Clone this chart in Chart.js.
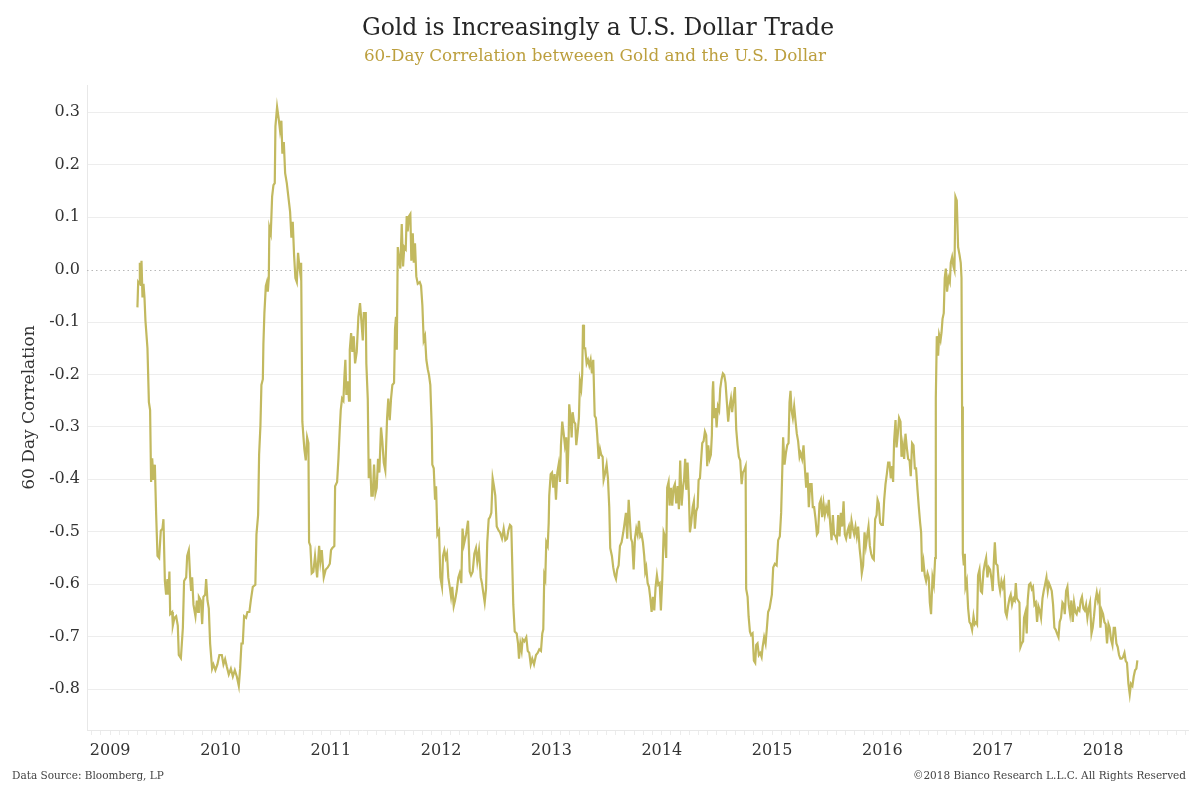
<!DOCTYPE html>
<html lang="en">
<head>
  <meta charset="UTF-8">
  <title>Gold is Increasingly a U.S. Dollar Trade</title>
  <script src="https://cdn.jsdelivr.net/npm/chart.js"></script>
  <style>
    body {
      margin: 0;
      padding: 0;
      background: #ffffff;
      font-family: 'DejaVu Serif', Georgia, serif;
    }
    #wrap {
      position: relative;
      width: 1200px;
      height: 800px;
    }
    #title {
      position: absolute;
      top: 13px;
      left: 0;
      width: 1196px;
      text-align: center;
      font-size: 23.5px;
      color: #262626;
    }
    #subtitle {
      position: absolute;
      top: 45px;
      left: 0;
      width: 1190px;
      text-align: center;
      font-size: 16.8px;
      color: #bc9f3e;
    }
    .foot {
      position: absolute;
      top: 769px;
      font-size: 10.5px;
      color: #444;
    }
    #source { left: 12px; }
    #copy { right: 14px; }
    canvas { position: absolute; left: 0; top: 0; }
  </style>
</head>
<body>
  <div id="wrap">
    <canvas id="chart" width="1200" height="800"></canvas>
    <div id="title">Gold is Increasingly a U.S. Dollar Trade</div>
    <div id="subtitle">60-Day Correlation betweeen Gold and the U.S. Dollar</div>
    <div class="foot" id="source">Data Source: Bloomberg, LP</div>
    <div class="foot" id="copy">©2018 Bianco Research L.L.C. All Rights Reserved</div>
  </div>

  <script>
    // 날짜 (소수 연도) - 그림에서 읽은 값
    const dates = [
      2009.247, 2009.254, 2009.263, 2009.269, 2009.278, 2009.284, 2009.293, 2009.302, 2009.311, 2009.320,
      2009.338, 2009.351, 2009.362, 2009.371, 2009.381, 2009.392, 2009.405, 2009.417, 2009.429, 2009.444,
      2009.459, 2009.474, 2009.483, 2009.496, 2009.507, 2009.519, 2009.528, 2009.537, 2009.544, 2009.562,
      2009.568, 2009.583, 2009.598, 2009.613, 2009.622, 2009.641, 2009.659, 2009.670, 2009.689, 2009.698,
      2009.713, 2009.725, 2009.734, 2009.743, 2009.755, 2009.773, 2009.786, 2009.797, 2009.804, 2009.822,
      2009.834, 2009.845, 2009.861, 2009.870, 2009.882, 2009.894, 2009.906, 2009.924, 2009.936, 2009.954,
      2009.972, 2009.990, 2010.012, 2010.027, 2010.042, 2010.057, 2010.075, 2010.094, 2010.112, 2010.130,
      2010.148, 2010.166, 2010.178, 2010.190, 2010.202, 2010.214, 2010.232, 2010.244, 2010.262, 2010.275,
      2010.293, 2010.316, 2010.326, 2010.341, 2010.350, 2010.362, 2010.371, 2010.384, 2010.389, 2010.398,
      2010.411, 2010.420, 2010.429, 2010.438, 2010.443, 2010.456, 2010.468, 2010.480, 2010.492, 2010.498,
      2010.513, 2010.528, 2010.540, 2010.552, 2010.561, 2010.574, 2010.586, 2010.601, 2010.619, 2010.631,
      2010.643, 2010.655, 2010.667, 2010.679, 2010.692, 2010.703, 2010.715, 2010.722, 2010.731, 2010.742,
      2010.760, 2010.773, 2010.785, 2010.797, 2010.803, 2010.815, 2010.827, 2010.842, 2010.857, 2010.876,
      2010.894, 2010.905, 2010.918, 2010.936, 2010.954, 2010.972, 2010.991, 2011.002, 2011.014, 2011.032,
      2011.039, 2011.057, 2011.069, 2011.081, 2011.090, 2011.102, 2011.114, 2011.123, 2011.132, 2011.141,
      2011.154, 2011.165, 2011.172, 2011.184, 2011.195, 2011.208, 2011.220, 2011.235, 2011.250, 2011.265,
      2011.277, 2011.290, 2011.299, 2011.317, 2011.322, 2011.335, 2011.344, 2011.356, 2011.368, 2011.380,
      2011.392, 2011.404, 2011.416, 2011.428, 2011.440, 2011.455, 2011.467, 2011.480, 2011.494, 2011.510,
      2011.521, 2011.534, 2011.546, 2011.558, 2011.573, 2011.582, 2011.591, 2011.598, 2011.607, 2011.618,
      2011.630, 2011.643, 2011.655, 2011.666, 2011.679, 2011.688, 2011.697, 2011.709, 2011.721, 2011.730,
      2011.743, 2011.752, 2011.763, 2011.775, 2011.788, 2011.806, 2011.818, 2011.830, 2011.842, 2011.854,
      2011.866, 2011.879, 2011.890, 2011.902, 2011.915, 2011.920, 2011.933, 2011.945, 2011.954, 2011.966,
      2011.981, 2011.993, 2012.008, 2012.017, 2012.029, 2012.042, 2012.053, 2012.065, 2012.078, 2012.090,
      2012.101, 2012.114, 2012.126, 2012.141, 2012.156, 2012.168, 2012.183, 2012.194, 2012.207, 2012.226,
      2012.244, 2012.259, 2012.271, 2012.286, 2012.301, 2012.316, 2012.328, 2012.343, 2012.359, 2012.370,
      2012.382, 2012.395, 2012.407, 2012.418, 2012.431, 2012.443, 2012.455, 2012.467, 2012.479, 2012.491,
      2012.504, 2012.522, 2012.534, 2012.552, 2012.567, 2012.582, 2012.597, 2012.609, 2012.624, 2012.636,
      2012.645, 2012.654, 2012.667, 2012.685, 2012.697, 2012.706, 2012.718, 2012.730, 2012.739, 2012.754,
      2012.772, 2012.785, 2012.799, 2012.812, 2012.826, 2012.842, 2012.860, 2012.875, 2012.890, 2012.905,
      2012.917, 2012.926, 2012.935, 2012.944, 2012.953, 2012.966, 2012.975, 2012.980, 2012.993, 2013.005,
      2013.016, 2013.029, 2013.041, 2013.053, 2013.065, 2013.077, 2013.086, 2013.098, 2013.111, 2013.122,
      2013.134, 2013.143, 2013.156, 2013.161, 2013.174, 2013.183, 2013.192, 2013.204, 2013.216, 2013.225,
      2013.238, 2013.249, 2013.258, 2013.270, 2013.279, 2013.286, 2013.295, 2013.306, 2013.319, 2013.331,
      2013.343, 2013.355, 2013.367, 2013.379, 2013.392, 2013.403, 2013.415, 2013.428, 2013.440, 2013.451,
      2013.464, 2013.473, 2013.485, 2013.500, 2013.512, 2013.524, 2013.533, 2013.548, 2013.560, 2013.573,
      2013.585, 2013.596, 2013.609, 2013.621, 2013.636, 2013.651, 2013.663, 2013.675, 2013.687, 2013.700,
      2013.721, 2013.732, 2013.745, 2013.757, 2013.769, 2013.781, 2013.793, 2013.805, 2013.817, 2013.829,
      2013.841, 2013.850, 2013.859, 2013.872, 2013.884, 2013.895, 2013.908, 2013.920, 2013.932, 2013.944,
      2013.956, 2013.968, 2013.981, 2013.992, 2014.004, 2014.017, 2014.029, 2014.040, 2014.049, 2014.062,
      2014.071, 2014.083, 2014.095, 2014.107, 2014.119, 2014.131, 2014.144, 2014.155, 2014.167, 2014.180,
      2014.192, 2014.203, 2014.212, 2014.222, 2014.234, 2014.246, 2014.255, 2014.267, 2014.280, 2014.291,
      2014.300, 2014.312, 2014.325, 2014.334, 2014.346, 2014.355, 2014.367, 2014.379, 2014.391, 2014.403,
      2014.412, 2014.421, 2014.434, 2014.445, 2014.454, 2014.461, 2014.466, 2014.475, 2014.488, 2014.497,
      2014.509, 2014.520, 2014.530, 2014.542, 2014.554, 2014.566, 2014.578, 2014.590, 2014.602, 2014.615,
      2014.627, 2014.638, 2014.651, 2014.663, 2014.675, 2014.687, 2014.699, 2014.711, 2014.724, 2014.735,
      2014.747, 2014.760, 2014.765, 2014.778, 2014.787, 2014.799, 2014.810, 2014.823, 2014.835, 2014.847,
      2014.856, 2014.868, 2014.880, 2014.892, 2014.905, 2014.914, 2014.928, 2014.941, 2014.953, 2014.964,
      2014.977, 2014.989, 2014.998, 2015.010, 2015.025, 2015.041, 2015.055, 2015.070, 2015.082, 2015.091,
      2015.100, 2015.113, 2015.125, 2015.137, 2015.149, 2015.158, 2015.167, 2015.176, 2015.188, 2015.200,
      2015.213, 2015.224, 2015.236, 2015.249, 2015.258, 2015.272, 2015.285, 2015.297, 2015.309, 2015.321,
      2015.333, 2015.345, 2015.358, 2015.369, 2015.381, 2015.394, 2015.406, 2015.417, 2015.430, 2015.442,
      2015.454, 2015.466, 2015.478, 2015.490, 2015.503, 2015.514, 2015.526, 2015.539, 2015.551, 2015.562,
      2015.575, 2015.587, 2015.599, 2015.611, 2015.623, 2015.635, 2015.648, 2015.659, 2015.671, 2015.684,
      2015.696, 2015.707, 2015.720, 2015.732, 2015.744, 2015.756, 2015.768, 2015.780, 2015.793, 2015.804,
      2015.813, 2015.825, 2015.838, 2015.850, 2015.861, 2015.874, 2015.886, 2015.898, 2015.910, 2015.922,
      2015.934, 2015.947, 2015.956, 2015.967, 2015.979, 2015.992, 2016.004, 2016.016, 2016.028, 2016.040,
      2016.052, 2016.064, 2016.076, 2016.088, 2016.097, 2016.106, 2016.119, 2016.128, 2016.140, 2016.151,
      2016.164, 2016.173, 2016.185, 2016.197, 2016.209, 2016.221, 2016.233, 2016.246, 2016.257, 2016.269,
      2016.282, 2016.294, 2016.305, 2016.318, 2016.330, 2016.342, 2016.351, 2016.360, 2016.372, 2016.384,
      2016.396, 2016.409, 2016.420, 2016.430, 2016.441, 2016.454, 2016.466, 2016.478, 2016.484, 2016.493,
      2016.505, 2016.514, 2016.527, 2016.536, 2016.545, 2016.556, 2016.565, 2016.575, 2016.586, 2016.599,
      2016.611, 2016.620, 2016.632, 2016.644, 2016.653, 2016.662, 2016.674, 2016.686, 2016.699, 2016.710,
      2016.717, 2016.722, 2016.729, 2016.738, 2016.747, 2016.753, 2016.765, 2016.777, 2016.789, 2016.801,
      2016.813, 2016.826, 2016.837, 2016.849, 2016.858, 2016.867, 2016.880, 2016.892, 2016.903, 2016.916,
      2016.928, 2016.940, 2016.952, 2016.964, 2016.976, 2016.989, 2017.000, 2017.009, 2017.019, 2017.030,
      2017.043, 2017.055, 2017.067, 2017.079, 2017.091, 2017.103, 2017.115, 2017.127, 2017.139, 2017.152,
      2017.163, 2017.175, 2017.188, 2017.200, 2017.209, 2017.218, 2017.230, 2017.242, 2017.251, 2017.263,
      2017.275, 2017.284, 2017.297, 2017.308, 2017.317, 2017.329, 2017.342, 2017.354, 2017.365, 2017.378,
      2017.390, 2017.402, 2017.414, 2017.426, 2017.438, 2017.451, 2017.462, 2017.474, 2017.487, 2017.499,
      2017.510, 2017.523, 2017.535, 2017.547, 2017.559, 2017.571, 2017.583, 2017.596, 2017.607, 2017.619,
      2017.632, 2017.644, 2017.653, 2017.665, 2017.677, 2017.689, 2017.701, 2017.713, 2017.725, 2017.737,
      2017.750, 2017.761, 2017.773, 2017.786, 2017.798, 2017.809, 2017.822, 2017.834, 2017.846, 2017.858,
      2017.870, 2017.882, 2017.895, 2017.906, 2017.918, 2017.931, 2017.943, 2017.954, 2017.967, 2017.976,
      2017.988, 2018.000, 2018.012, 2018.024, 2018.036, 2018.049, 2018.060, 2018.072, 2018.085, 2018.097,
      2018.108, 2018.121, 2018.133, 2018.145, 2018.157, 2018.169, 2018.181, 2018.194, 2018.205, 2018.217,
      2018.230, 2018.242, 2018.253, 2018.266, 2018.278, 2018.290, 2018.302, 2018.311
    ];

    // 60일 상관계수 값
    const corr = [
      -0.072, -0.024, -0.027, 0.013, -0.031, 0.017, -0.053, -0.027, -0.053, -0.098,
      -0.150, -0.253, -0.268, -0.405, -0.360, -0.401, -0.372, -0.468, -0.546, -0.550,
      -0.498, -0.494, -0.476, -0.594, -0.620, -0.590, -0.620, -0.576, -0.657, -0.653,
      -0.679, -0.664, -0.661, -0.679, -0.735, -0.741, -0.683, -0.594, -0.587, -0.546,
      -0.535, -0.587, -0.613, -0.587, -0.639, -0.661, -0.631, -0.653, -0.624, -0.631,
      -0.676, -0.624, -0.620, -0.590, -0.631, -0.646, -0.713, -0.761, -0.753, -0.764,
      -0.753, -0.735, -0.735, -0.753, -0.743, -0.757, -0.772, -0.761, -0.776, -0.764,
      -0.776, -0.794, -0.761, -0.713, -0.713, -0.661, -0.664, -0.653, -0.653, -0.631,
      -0.605, -0.601, -0.505, -0.468, -0.353, -0.298, -0.220, -0.209, -0.142, -0.083,
      -0.031, -0.024, -0.042, -0.016, 0.080, 0.069, 0.139, 0.161, 0.165, 0.273,
      0.310, 0.287, 0.265, 0.284, 0.221, 0.243, 0.184, 0.165, 0.132, 0.110,
      0.061, 0.091, 0.028, -0.016, -0.024, 0.032, 0.006, -0.005, 0.013, -0.290,
      -0.342, -0.364, -0.320, -0.331, -0.520, -0.527, -0.579, -0.576, -0.546, -0.587,
      -0.527, -0.557, -0.535, -0.587, -0.572, -0.568, -0.561, -0.535, -0.531, -0.527,
      -0.413, -0.405, -0.361, -0.305, -0.268, -0.246, -0.250, -0.205, -0.172, -0.239,
      -0.213, -0.250, -0.153, -0.121, -0.157, -0.127, -0.179, -0.157, -0.090, -0.064,
      -0.098, -0.135, -0.083, -0.083, -0.179, -0.246, -0.398, -0.361, -0.431, -0.431,
      -0.372, -0.427, -0.416, -0.361, -0.387, -0.301, -0.327, -0.368, -0.383, -0.283,
      -0.246, -0.287, -0.246, -0.220, -0.216, -0.113, -0.090, -0.153, 0.043, 0.021,
      0.002, 0.087, 0.006, 0.043, 0.039, 0.102, 0.073, 0.102, 0.106, 0.017,
      0.069, 0.013, 0.050, -0.013, -0.027, -0.024, -0.031, -0.068, -0.135, -0.127,
      -0.172, -0.190, -0.201, -0.220, -0.301, -0.372, -0.379, -0.439, -0.413, -0.505,
      -0.498, -0.587, -0.605, -0.546, -0.535, -0.550, -0.542, -0.587, -0.605, -0.624,
      -0.605, -0.642, -0.631, -0.613, -0.587, -0.579, -0.598, -0.494, -0.524, -0.505,
      -0.479, -0.576, -0.583, -0.576, -0.542, -0.531, -0.557, -0.535, -0.587, -0.598,
      -0.616, -0.635, -0.609, -0.520, -0.476, -0.472, -0.464, -0.398, -0.413, -0.431,
      -0.490, -0.498, -0.501, -0.513, -0.494, -0.516, -0.513, -0.498, -0.487, -0.490,
      -0.564, -0.639, -0.690, -0.694, -0.713, -0.742, -0.713, -0.727, -0.705, -0.709,
      -0.701, -0.727, -0.731, -0.753, -0.742, -0.753, -0.735, -0.731, -0.724, -0.727,
      -0.694, -0.686, -0.583, -0.590, -0.520, -0.527, -0.483, -0.431, -0.390, -0.387,
      -0.416, -0.390, -0.439, -0.387, -0.372, -0.405, -0.335, -0.290, -0.313, -0.335,
      -0.320, -0.409, -0.320, -0.257, -0.283, -0.320, -0.272, -0.290, -0.294, -0.335,
      -0.309, -0.283, -0.213, -0.227, -0.198, -0.105, -0.150, -0.150, -0.179, -0.172,
      -0.183, -0.172, -0.198, -0.172, -0.279, -0.283, -0.316, -0.361, -0.342, -0.353,
      -0.357, -0.401, -0.390, -0.372, -0.398, -0.453, -0.531, -0.546, -0.568, -0.583,
      -0.590, -0.572, -0.564, -0.527, -0.520, -0.501, -0.483, -0.464, -0.513, -0.439,
      -0.513, -0.520, -0.572, -0.513, -0.494, -0.505, -0.479, -0.509, -0.505, -0.520,
      -0.546, -0.576, -0.568, -0.598, -0.605, -0.624, -0.653, -0.624, -0.650, -0.605,
      -0.583, -0.601, -0.598, -0.650, -0.594, -0.501, -0.509, -0.550, -0.416, -0.405,
      -0.450, -0.416, -0.450, -0.416, -0.409, -0.446, -0.413, -0.457, -0.364, -0.450,
      -0.416, -0.398, -0.361, -0.420, -0.368, -0.431, -0.501, -0.483, -0.453, -0.442,
      -0.494, -0.461, -0.453, -0.401, -0.398, -0.368, -0.331, -0.327, -0.309, -0.316,
      -0.375, -0.335, -0.361, -0.353, -0.316, -0.231, -0.213, -0.283, -0.264, -0.301,
      -0.261, -0.268, -0.227, -0.209, -0.198, -0.201, -0.216, -0.253, -0.290, -0.261,
      -0.246, -0.272, -0.246, -0.224, -0.305, -0.335, -0.357, -0.364, -0.409, -0.387,
      -0.383, -0.375, -0.609, -0.624, -0.661, -0.690, -0.697, -0.694, -0.746, -0.750,
      -0.716, -0.713, -0.735, -0.731, -0.739, -0.720, -0.701, -0.713, -0.683, -0.653,
      -0.646, -0.631, -0.620, -0.568, -0.561, -0.564, -0.516, -0.509, -0.464, -0.394,
      -0.320, -0.372, -0.350, -0.335, -0.331, -0.253, -0.231, -0.268, -0.283, -0.261,
      -0.290, -0.313, -0.327, -0.357, -0.350, -0.361, -0.335, -0.379, -0.416, -0.387,
      -0.453, -0.409, -0.409, -0.453, -0.453, -0.476, -0.505, -0.501, -0.446, -0.439,
      -0.472, -0.446, -0.468, -0.453, -0.464, -0.439, -0.483, -0.516, -0.468, -0.505,
      -0.509, -0.516, -0.468, -0.509, -0.464, -0.490, -0.442, -0.505, -0.513, -0.498,
      -0.490, -0.513, -0.479, -0.494, -0.505, -0.490, -0.509, -0.490, -0.531, -0.553,
      -0.579, -0.564, -0.501, -0.527, -0.509, -0.490, -0.527, -0.542, -0.550, -0.553,
      -0.476, -0.468, -0.439, -0.446, -0.483, -0.487, -0.487, -0.439, -0.409, -0.390,
      -0.368, -0.368, -0.398, -0.375, -0.405, -0.327, -0.287, -0.339, -0.313, -0.283,
      -0.290, -0.357, -0.335, -0.361, -0.313, -0.339, -0.361, -0.364, -0.394, -0.331,
      -0.335, -0.379, -0.379, -0.420, -0.453, -0.483, -0.501, -0.576, -0.557, -0.583,
      -0.594, -0.579, -0.587, -0.635, -0.657, -0.587, -0.601, -0.550, -0.246, -0.127,
      -0.164, -0.124, -0.135, -0.120, -0.094, -0.083, -0.016, 0.002, -0.042, -0.016,
      -0.024, 0.013, 0.024, 0.006, -0.001, 0.139, 0.132, 0.043, 0.028, 0.013,
      -0.016, -0.261, -0.542, -0.564, -0.542, -0.605, -0.594, -0.646, -0.672, -0.676,
      -0.687, -0.661, -0.676, -0.672, -0.676, -0.583, -0.572, -0.613, -0.616, -0.576,
      -0.561, -0.550, -0.587, -0.568, -0.572, -0.590, -0.613, -0.561, -0.520, -0.561,
      -0.564, -0.598, -0.613, -0.594, -0.605, -0.594, -0.653, -0.661, -0.642, -0.627,
      -0.620, -0.639, -0.627, -0.631, -0.598, -0.627, -0.631, -0.635, -0.720, -0.713,
      -0.709, -0.664, -0.653, -0.694, -0.631, -0.601, -0.598, -0.609, -0.605, -0.639,
      -0.635, -0.672, -0.642, -0.650, -0.664, -0.627, -0.613, -0.601, -0.587, -0.613,
      -0.598, -0.605, -0.613, -0.639, -0.683, -0.687, -0.694, -0.701, -0.672, -0.664,
      -0.635, -0.639, -0.657, -0.613, -0.605, -0.639, -0.657, -0.631, -0.672, -0.635,
      -0.653, -0.657, -0.646, -0.650, -0.631, -0.624, -0.646, -0.650, -0.639, -0.664,
      -0.646, -0.635, -0.694, -0.683, -0.661, -0.631, -0.616, -0.631, -0.620, -0.683,
      -0.650, -0.657, -0.672, -0.676, -0.713, -0.676, -0.683, -0.705, -0.716, -0.683,
      -0.683, -0.713, -0.720, -0.735, -0.742, -0.742, -0.739, -0.731, -0.746, -0.750,
      -0.790, -0.810, -0.790, -0.794, -0.776, -0.764, -0.761, -0.745
    ];

    // 축 범위와 눈금
    const xMin = 2008.79, xMax = 2018.77;
    const yMin = -0.878, yMax = 0.352;
    const yearLabels = [2009, 2010, 2011, 2012, 2013, 2014, 2015, 2016, 2017, 2018];

    const points = dates.map((d, i) => ({ x: d, y: corr[i] }));

    // 0 기준 점선
    const zeroLine = {
      id: 'zeroLine',
      beforeDatasetsDraw(chart) {
        const { ctx, chartArea, scales } = chart;
        const y = Math.round(scales.y.getPixelForValue(0)) + 0.5;
        ctx.save();
        ctx.strokeStyle = '#b8b8b8';
        ctx.lineWidth = 1;
        ctx.setLineDash([1.5, 3]);
        ctx.beginPath();
        ctx.moveTo(chartArea.left, y);
        ctx.lineTo(chartArea.right, y);
        ctx.stroke();
        ctx.restore();
      }
    };

    const tickFont = { family: "'DejaVu Serif', Georgia, serif", size: 16 };

    new Chart(document.getElementById('chart'), {
      type: 'line',
      data: {
        datasets: [{
          label: '60 Day Correlation',
          data: points,
          borderColor: '#c2b95f',
          borderWidth: 2.2,
          pointRadius: 0,
          tension: 0,
          fill: false
        }]
      },
      options: {
        responsive: false,
        animation: false,
        layout: { padding: { top: 85, right: 12, bottom: 25, left: 0 } },
        plugins: {
          legend: { display: false },
          tooltip: { enabled: false }
        },
        scales: {
          x: {
            type: 'linear',
            min: xMin,
            max: xMax,
            afterBuildTicks(scale) {
              // 월별 눈금, 연도만 라벨
              const ticks = [];
              for (let m = Math.ceil(xMin * 12); m <= Math.floor(xMax * 12); m++) {
                ticks.push({ value: m / 12 });
              }
              scale.ticks = ticks;
            },
            afterFit(scale) { scale.height = 45; },
            ticks: {
              autoSkip: false,
              maxRotation: 0,
              padding: 6,
              color: '#333',
              font: tickFont,
              callback(v) {
                const yr = Math.round(v);
                return (Math.abs(v - yr) < 1e-6 && yearLabels.includes(yr)) ? String(yr) : '';
              }
            },
            grid: {
              drawOnChartArea: false,
              drawTicks: true,
              tickLength: 5,
              tickColor: '#ececec'
            },
            border: { display: true, color: '#e8e8e8' }
          },
          y: {
            min: yMin,
            max: yMax,
            afterFit(scale) { scale.width = 87; },
            ticks: {
              stepSize: 0.1,
              includeBounds: false,
              padding: 7,
              color: '#333',
              font: tickFont,
              callback(v) {
                return Math.abs(v) < 1e-9 ? '0.0' : v.toFixed(1);
              }
            },
            grid: {
              drawTicks: false,
              color(ctx) {
                return (ctx.tick && Math.abs(ctx.tick.value) < 1e-9) ? 'rgba(0,0,0,0)' : '#ededed';
              }
            },
            border: { display: true, color: '#e8e8e8' },
            title: {
              display: true,
              text: '60 Day Correlation',
              color: '#333',
              font: { family: "'DejaVu Serif', Georgia, serif", size: 17 },
              padding: { top: 19, bottom: 0 }
            }
          }
        }
      },
      plugins: [zeroLine]
    });
  </script>
</body>
</html>
